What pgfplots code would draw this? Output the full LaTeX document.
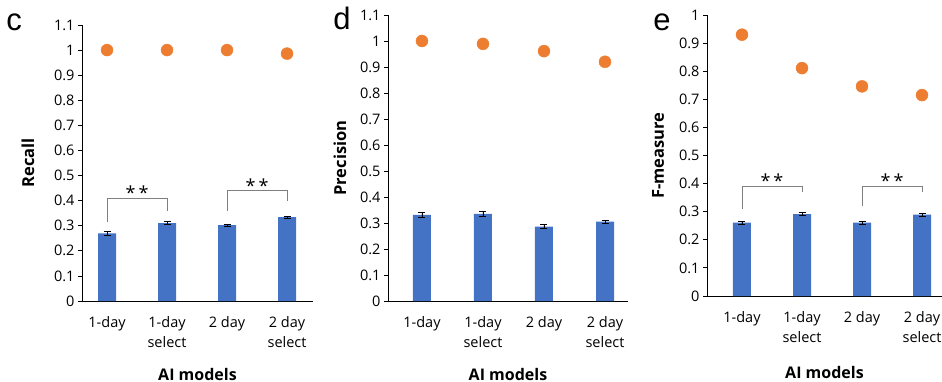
\documentclass[border=0pt]{standalone}
\usepackage{pgfplots}
\pgfplotsset{compat=1.18}
\usepackage{fontspec}
\setmainfont{Open Sans}
\newfontfamily\letterfont{Liberation Sans}
\definecolor{barblue}{HTML}{4472C4}
\definecolor{dotorange}{HTML}{ED7D31}
\definecolor{brk}{HTML}{7F7F7F}
\tikzset{
  stars/.style={font=\fontsize{18bp}{20bp}\selectfont},
  letter/.style={font=\letterfont\fontsize{31bp}{33bp}\selectfont, anchor=base},
}
\pgfplotsset{
  panel/.style={
    scale only axis,
    anchor=south west,
    axis lines*=left,
    axis line style={black, line width=0.8bp},
    tick align=outside,
    major tick length=4bp,
    ytick style={black, line width=0.8bp},
    xtick style={draw=none},
    xtick={0,1,2,3},
    xticklabels={1-day,{1-day\\select},2 day,{2 day\\select}},
    xticklabel style={align=center, font=\fontsize{14.5bp}{20bp}\selectfont, yshift=-8bp},
    yticklabel style={font=\fontsize{14.5bp}{17bp}\selectfont},
    /pgf/number format/assume math mode=true,
    xlabel={AI models},
    xlabel style={font=\bfseries\fontsize{16bp}{19bp}\selectfont, at={(axis description cs:0.5,0)}, anchor=center},
    ylabel style={font=\bfseries\fontsize{16.5bp}{19bp}\selectfont, at={(axis description cs:0,0.5)}, anchor=center},
    clip=false,
  },
  bars/.style={ybar, bar width=18bp, fill=barblue, draw=none,
    error bars/.cd, y dir=both, y explicit,
    error bar style={black, line width=0.8bp},
    error mark options={rotate=90, mark size=3.5bp, black, line width=0.8bp}},
  dots/.style={only marks, mark=*, mark size=6bp, color=dotorange, mark options={fill=dotorange, draw=none}},
  bracket/.style={brk, line width=0.8bp, sharp plot, mark=none, forget plot},
}
\begin{document}
\begin{tikzpicture}
\useasboundingbox (0,0) rectangle (942bp,382bp);
% panel c
\begin{axis}[panel, at={(82bp,81bp)}, width=231bp, height=276bp,
  xmin=-0.417, xmax=3.433, ymin=0, ymax=1.1,
  ytick={0,0.1,0.2,0.3,0.4,0.5,0.6,0.7,0.8,0.9,1,1.1},
  ylabel={Recall}, ylabel style={yshift=54bp},
  xlabel style={yshift=-73bp}]
\addplot[bars] coordinates {(0,0.270) +- (0,0.007) (1,0.310) +- (0,0.006) (2,0.302) +- (0,0.005) (3,0.334) +- (0,0.005)};
\addplot[dots] coordinates {(0,1.0) (1,1.0) (2,1.0) (3,0.986)};
\addplot[bracket] coordinates {(0,0.315) (0,0.41) (1,0.41) (1,0.36)};
\addplot[bracket] coordinates {(2,0.36) (2,0.44) (3,0.44) (3,0.40)};
\node[stars] at (axis cs:0.5,0.43) {*\,*};
\node[stars] at (axis cs:2.5,0.46) {*\,*};
\end{axis}
\node[letter] at (14bp,351bp) {c};
% panel d
\begin{axis}[panel, at={(388bp,81bp)}, width=240bp, height=286bp,
  xmin=-0.557, xmax=3.377, ymin=0, ymax=1.1,
  ytick={0,0.1,0.2,0.3,0.4,0.5,0.6,0.7,0.8,0.9,1,1.1},
  ylabel={Precision}, ylabel style={yshift=48bp},
  xlabel style={yshift=-73bp}]
\addplot[bars] coordinates {(0,0.331) +- (0,0.008) (1,0.335) +- (0,0.008) (2,0.286) +- (0,0.007) (3,0.305) +- (0,0.006)};
\addplot[dots] coordinates {(0,1.0) (1,0.989) (2,0.961) (3,0.920)};
\end{axis}
\node[letter] at (342bp,352bp) {d};
% panel e
\begin{axis}[panel, at={(707bp,86bp)}, width=235bp, height=281bp,
  xmin=-0.583, xmax=3.333, ymin=0, ymax=1,
  ytick={0,0.1,0.2,0.3,0.4,0.5,0.6,0.7,0.8,0.9,1},
  ylabel={F-measure}, ylabel style={yshift=49bp},
  xlabel style={yshift=-76bp}]
\addplot[bars] coordinates {(0,0.261) +- (0,0.006) (1,0.291) +- (0,0.005) (2,0.261) +- (0,0.005) (3,0.290) +- (0,0.005)};
\addplot[dots] coordinates {(0,0.930) (1,0.811) (2,0.746) (3,0.715)};
\addplot[bracket] coordinates {(0,0.31) (0,0.39) (1,0.39) (1,0.37)};
\addplot[bracket] coordinates {(2,0.32) (2,0.39) (3,0.39) (3,0.37)};
\node[stars] at (axis cs:0.5,0.41) {*\,*};
\node[stars] at (axis cs:2.5,0.41) {*\,*};
\end{axis}
\node[letter] at (662bp,351bp) {e};
\end{tikzpicture}
\end{document}
